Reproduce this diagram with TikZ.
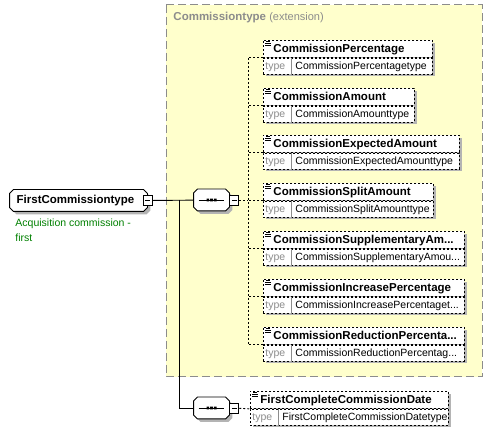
\documentclass[tikz,border=0pt]{standalone}
\usepackage{fontspec}
\setmainfont{Liberation Sans}
\usepackage{xcolor}
\definecolor{xyellow}{HTML}{FFFFCC}
\definecolor{xgray}{HTML}{8C8C8C}
\definecolor{xshade}{HTML}{B4B4B4}
\definecolor{xgreen}{HTML}{008000}
\usepackage{tikz}
\usetikzlibrary{positioning,calc}
\newcommand{\xelem}[6]{%
  \fill[xshade] (#2+3,#3+3) rectangle ++(#4,33);
  \node[elem,minimum width=#4pt,anchor=north west] (#1) at (#2,#3) {};
  \node[elem,minimum width=#4pt,minimum height=16pt,anchor=north west] (#1t) at (#1.south west) {};
  \draw[xgray,line width=0.6pt] ([xshift=28pt]#1t.north west) -- ([xshift=28pt]#1t.south west);
  \draw[line width=0.6pt] (#2+3,#3+1.5) -- ++(4,0) (#2+2,#3+3.5) -- ++(6,0) (#2+2,#3+5.5) -- ++(6,0);
  \node[ename] (#1n) at ([xshift=10pt]#1.west) {#5};
  \node[tname,text=xgray] (#1l) at ([xshift=2pt]#1t.west) {type};
  \node[tname] (#1v) at ([xshift=32pt]#1t.west) {#6};
}
\newcommand{\xoct}[1]{%
  \fill[xshade] ([shift={(7pt,-3pt)}]#1.north west) -- ([shift={(-1pt,-3pt)}]#1.north east)
    -- ([shift={(3pt,-7pt)}]#1.north east) -- ([shift={(3pt,1pt)}]#1.south east)
    -- ([shift={(-1pt,-3pt)}]#1.south east) -- ([shift={(7pt,-3pt)}]#1.south west)
    -- ([shift={(3pt,1pt)}]#1.south west) -- ([shift={(3pt,-7pt)}]#1.north west) -- cycle;
  \filldraw[fill=white] ([xshift=4pt]#1.north west) -- ([xshift=-4pt]#1.north east)
    -- ([yshift=-4pt]#1.north east) -- ([yshift=4pt]#1.south east)
    -- ([xshift=-4pt]#1.south east) -- ([xshift=4pt]#1.south west)
    -- ([yshift=4pt]#1.south west) -- ([yshift=-4pt]#1.north west) -- cycle;
}
\newcommand{\xseq}[1]{%
  \xoct{#1}
  \draw ([xshift=5pt]#1.west) -- ([xshift=-5pt]#1.east);
  \fill ([shift={(-5pt,-1.3pt)}]#1.center) rectangle ++(2.6pt,2.6pt)
        ([shift={(-1.3pt,-1.3pt)}]#1.center) rectangle ++(2.6pt,2.6pt)
        ([shift={(2.4pt,-1.3pt)}]#1.center) rectangle ++(2.6pt,2.6pt);
}

\begin{document}
\begin{tikzpicture}[x=1pt,y=-1pt,line width=0.9pt,
  elem/.style={rectangle,draw,dash pattern=on 2pt off 2pt,fill=white,minimum height=17pt,inner sep=0pt},
  ename/.style={font=\fontsize{11.5}{13}\selectfont\bfseries,inner sep=0pt,text height=8.5pt,text depth=2pt,anchor=west},
  tname/.style={font=\fontsize{10.5}{12}\selectfont,inner sep=0pt,text height=8pt,text depth=2pt,anchor=west},
  rootbox/.style={rectangle,minimum width=137pt,minimum height=21pt,inner sep=0pt},
  seqbox/.style={rectangle,minimum width=35pt,minimum height=21pt,inner sep=0pt},
  minus/.style={rectangle,draw,fill=white,minimum width=9pt,minimum height=10pt,inner sep=0pt,line width=0.8pt,
                path picture={\draw ([xshift=2pt]path picture bounding box.west) -- ([xshift=-2pt]path picture bounding box.east);}},
  con/.style={dash pattern=on 2pt off 2pt},
  extbox/.style={fill=xyellow,draw=xgray,dash pattern=on 8pt off 4pt,line width=1pt},
  note/.style={font=\fontsize{10.5}{15}\selectfont,text=xgreen,align=left,inner sep=0pt},
  title/.style={font=\fontsize{11}{13}\selectfont,text=xgray,inner sep=0pt,anchor=west}]
\useasboundingbox (0,0) rectangle (493,435);
\draw[extbox] (166,5) rectangle (482,377);
\node[title] (ext) at (173,18) {\fontsize{11.5}{13}\selectfont\textbf{Commissiontype} \fontsize{11}{13}\selectfont(extension)};

\xelem{cp}{263}{40}{169}{CommissionPercentage}{CommissionPercentagetype}
\xelem{ca}{263}{88}{151}{CommissionAmount}{CommissionAmounttype}
\xelem{cea}{263}{135}{196}{CommissionExpectedAmount}{CommissionExpectedAmounttype}
\xelem{csa}{263}{183}{170}{CommissionSplitAmount}{CommissionSplitAmounttype}
\xelem{csua}{263}{231}{201}{CommissionSupplementaryAm...}{CommissionSupplementaryAmou...}
\xelem{cip}{263}{279}{201}{CommissionIncreasePercentage}{CommissionIncreasePercentaget...}
\xelem{crp}{263}{327}{201}{CommissionReductionPercenta...}{CommissionReductionPercentag...}
\xelem{fccd}{250}{391}{198}{FirstCompleteCommissionDate}{FirstCompleteCommissionDatetype}

\node[rootbox] (fct) at (78.5,200.5) {};
\xoct{fct}
\node[ename,anchor=center] (fctn) at ([xshift=-3pt]fct.center) {FirstCommissiontype};
\node[minus] (fctm) at (fct.east) {};
\node[note,anchor=north west] (ann) at (15,218) {Acquisition commission -\\first};
\node[seqbox] (s1) at (211.5,200) {};
\xseq{s1}
\node[minus,right=0pt of s1] (s1m) {};
\node[seqbox] (s2) at (211.5,408) {};
\xseq{s2}
\node[minus,right=0pt of s2] (s2m) {};
\coordinate (tr) at (179,200);
\coordinate (sp) at (248,200);

\draw (fctm) -- (s1);
\draw (tr) |- (s2);
\draw[con] (s1m) -- (sp);
\draw[con] (cp.south west -| sp) -- (crp.south west -| sp);
\foreach \e in {cp,ca,cea,csa,csua,cip,crp}
  \draw[con] (\e.south west) -- (\e.south west -| sp);
\draw[con] (s2m) -- (fccd.south west);
\end{tikzpicture}
\end{document}
